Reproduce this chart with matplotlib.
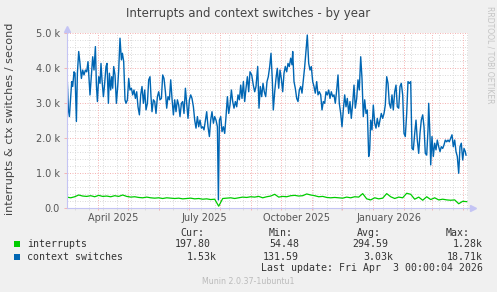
import datetime as dt
import matplotlib
matplotlib.use("Agg")
import matplotlib.pyplot as plt
import matplotlib.dates as mdates

# ---------------- data ----------------
start_date = dt.datetime(2025, 3, 1)

ctx_day = [0.0, 1.7, 2.7, 4.0, 5.0, 6.0, 7.3, 8.3, 9.7, 10.7, 12.0, 13.3, 14.7, 16.0, 17.3, 18.7,
           20.0, 21.3, 22.7, 23.3, 24.7, 26.0, 27.3, 28.7, 29.7, 30.7, 32.0, 33.3, 34.3, 35.3, 36.7,
           37.7, 39.3, 40.3, 41.7, 42.7, 44.0, 45.0, 46.0, 47.0, 48.3, 49.7, 51.0, 52.0, 53.3, 54.7,
           55.7, 57.0, 58.3, 59.3, 60.7, 62.0, 63.3, 64.7, 66.0, 67.3, 68.7, 70.0, 71.3, 72.7, 74.0,
           75.3, 76.7, 78.0, 79.3, 80.7, 82.0, 83.3, 84.3, 85.3, 86.7, 88.0, 89.3, 90.7, 92.0, 93.3,
           94.7, 96.0, 97.3, 98.7, 100.0, 101.3, 102.7, 104.0, 105.3, 106.7, 108.0, 109.3, 110.7,
           112.0, 113.3, 114.7, 116.0, 117.3, 118.7, 120.0, 121.3, 122.7, 124.0, 125.3, 126.7, 128.0,
           129.3, 130.7, 132.0, 133.3, 134.7, 136.0, 137.3, 138.7, 140.0, 141.3, 142.7, 144.0, 145.3,
           146.7, 148.0, 149.3, 150.7, 151.7, 152.7, 154.0, 155.3, 156.7, 158.0, 159.3, 160.7, 162.0,
           163.3, 164.7, 166.0, 167.3, 168.7, 170.0, 171.3, 172.7, 174.0, 175.3, 176.7, 178.0, 179.3,
           180.7, 182.0, 183.3, 185.0, 186.6, 188.0, 189.3, 191.0, 192.3, 193.6, 195.0, 196.3, 197.6,
           199.0, 200.3, 201.6, 203.0, 204.3, 205.6, 206.6, 208.0, 209.3, 210.6, 212.0, 213.3, 214.6,
           216.0, 217.3, 218.6, 220.0, 221.3, 222.6, 224.0, 225.3, 226.0, 227.3, 228.6, 230.0, 231.3,
           232.6, 234.0, 235.3, 236.6, 238.0, 239.3, 240.6, 242.0, 243.3, 244.6, 246.0, 247.3, 248.6,
           250.0, 251.3, 252.6, 254.0, 255.3, 256.6, 258.0, 259.3, 260.6, 262.0, 263.3, 264.6, 266.0,
           267.3, 268.6, 270.0, 271.3, 272.6, 274.0, 275.3, 276.6, 278.0, 279.3, 280.6, 282.0, 283.3,
           284.6, 286.0, 287.3, 288.6, 290.0, 291.3, 292.6, 294.0, 295.3, 296.6, 298.0, 299.3, 300.6,
           302.0, 303.0, 304.0, 305.3, 306.6, 308.0, 309.3, 310.6, 312.0, 313.3, 314.6, 316.0, 317.3,
           318.6, 320.0, 321.3, 322.6, 324.0, 325.3, 326.6, 328.0, 329.3, 330.6, 332.0, 333.3, 334.6,
           336.0, 337.3, 338.6, 340.0, 341.3, 342.6, 344.0, 345.3, 346.6, 348.0, 349.3, 350.6, 352.0,
           353.3, 354.6, 356.0, 357.3, 358.6, 360.0, 361.3, 362.0, 363.3, 364.0, 365.3, 366.6, 368.0,
           369.3, 370.6, 372.0, 373.3, 374.6, 376.0, 377.3, 378.6, 380.0, 381.3, 382.6, 384.0, 385.3,
           386.6, 388.0, 389.3, 390.6, 392.0, 393.3, 394.6, 396.0, 397.3, 398.6, 399.3]

ctx_val = [4100, 2810, 2620, 3190, 3620, 3480, 3900, 3860, 2480, 3860, 4480, 4140, 3710, 3950, 3810, 3950,
           3900, 4190, 3520, 3240, 3810, 4330, 3950, 4620, 3520, 3050, 3760, 3570, 4140, 3670, 3190,
           3480, 4050, 4140, 3000, 3860, 3380, 3760, 3430, 4050, 3810, 3000, 3480, 3950, 4860, 4240,
           4430, 4190, 3100, 3000, 3100, 3710, 3380, 3430, 3240, 3380, 3140, 3330, 2900, 2670, 3240,
           3480, 3000, 3380, 2810, 3000, 3670, 3760, 3190, 2760, 3100, 3050, 2710, 3190, 3330, 3100,
           3140, 3810, 3710, 3330, 2860, 3190, 3100, 3670, 3140, 2670, 3100, 2760, 3100,
           2950, 2620, 3000, 3050, 2710, 3430, 3000, 2570, 3100, 3240, 3140, 2900, 2520,
           2290, 2620, 2330, 2520, 2290, 2330, 2240, 2520, 2760, 2330, 2050, 2520, 2760,
           2430, 2620, 2520, 2330, 240, 2520, 2620, 2190, 2330, 2140, 2620, 3190, 2710,
           2950, 3380, 3050, 2860, 3050, 2900, 3240, 3100, 3520, 3140, 3620, 3050, 3430,
           3760, 3330, 3900, 3810, 3520, 3330, 3480, 4050, 2860, 3480, 3190, 3570, 3330,
           3190, 3620, 3760, 4050, 4430, 3670, 2810, 3330, 3710, 4000, 3430, 3950, 3710,
           3330, 3860, 4050, 3900, 4140, 4050, 4290, 4100, 4480, 3620, 3430, 3140, 3050,
           3380, 3480, 3290, 3670, 4050, 4520, 4950, 4140, 3950, 4050, 3620, 3480, 3290,
           3620, 3240, 3330, 3240, 2810, 3050, 3000, 3330, 3240, 3380, 3140, 3330, 3190,
           3240, 3000, 3380, 3810, 3000, 2710, 2330, 2810, 3240, 2900, 3140, 2710, 3050,
           2570, 3000, 3520, 2860, 3140, 3670, 3380, 4330, 3710, 2620, 3100, 2710, 2810,
           1480, 1670, 2520, 2240, 2950, 2430, 2290, 2570, 2330, 2520, 2710, 2570, 2710,
           2950, 3760, 3570, 3000, 2860, 3240, 2810, 3330, 3520, 2900, 2860, 3480, 3570,
           3240, 2140, 2050, 2710, 3620, 3570, 3620, 1710, 1670, 2140, 2520, 1950, 1570,
           2140, 2520, 2670, 2330, 1570, 1520, 2240, 3000, 2050, 1240, 2050, 1480, 1860,
           1670, 1950, 1760, 1620, 1760, 1710, 1810, 1950, 1900, 1950, 1900, 2000, 2100,
           1760, 1950, 1620, 1480, 1000, 1760, 1860, 1380, 1710, 1620, 1520]

int_day = [0, 4, 8, 12, 16, 20, 24, 28, 32, 36, 40, 44, 48, 52, 56, 60, 64, 68, 72, 76, 80, 84, 88,
           92, 96, 100, 104, 108, 112, 116, 120, 124, 128, 132, 136, 140, 144, 148, 152, 156, 160,
           164, 168, 172, 176, 180, 184, 188, 192, 196, 200, 204, 208, 212, 216, 220, 224, 228, 232,
           236, 240, 244, 248, 252, 256, 260, 264, 268, 272, 276, 280, 284, 288, 292, 296, 300, 304,
           308, 312, 316, 320, 324, 328, 332, 336, 340, 344, 348, 352, 356, 360, 364, 368, 372, 376,
           380, 384, 388, 392, 396, 400]

int_val = [320, 300, 330, 380, 350, 340, 360, 330, 370, 340, 350, 330, 360, 340, 380, 340, 320, 330,
           310, 300, 320, 300, 290, 300, 280, 300, 290, 280, 290, 270, 280, 290, 270, 280, 260, 270,
           250, 260, 60, 280, 290, 300, 280, 300, 320, 310, 330, 320, 340, 300, 330, 350, 400, 320,
           340, 330, 360, 370, 350, 360, 410, 380, 360, 330, 340, 310, 300, 310, 300, 290, 320, 300,
           330, 320, 420, 270, 240, 300, 270, 290, 420, 330, 280, 320, 300, 430, 400, 260, 320, 230,
           330, 250, 300, 240, 260, 240, 230, 240, 130, 200, 190]

y_ticks = [0, 1000, 2000, 3000, 4000, 5000]
y_tick_labels = ["0.0", "1.0 k", "2.0 k", "3.0 k", "4.0 k", "5.0 k"]
x_label_dates = [dt.datetime(2025, 4, 16, 12), dt.datetime(2025, 7, 17), dt.datetime(2025, 10, 17),
                 dt.datetime(2026, 1, 17)]
x_labels = ["April 2025", "July 2025", "October 2025", "January 2026"]

series_names = ["interrupts", "context switches"]
series_colors = ["#00cc00", "#0066b3"]
cur_vals = ["197.80", "1.53k"]
min_vals = ["54.48", "131.59"]
avg_vals = ["294.59", "3.03k"]
max_vals = ["1.28k", "18.71k"]

# ---------------- figure ----------------
W, H = 497, 292
fig = plt.figure(figsize=(W / 100, H / 100), dpi=100, facecolor="#f0f0f0")


def fx(px):
    return px / W


def fy(py):
    return 1 - py / H


L, R, T, B = 66.7, 467.7, 33.3, 208.3
ax = fig.add_axes([fx(L), fy(B), (R - L) / W, (B - T) / H])
ax.set_facecolor("white")
for s in ax.spines.values():
    s.set_visible(False)

x0 = mdates.date2num(start_date)
ax.set_xlim(x0, x0 + 401)
ax.set_ylim(0, 5000)

minor_c = "#dcdcdc"
major_c = "#f5b5b5"
ls = (0, (1, 1.5))
lw = 0.72

# horizontal grid
for v in range(200, 5001, 200):
    if v % 1000:
        ax.axhline(v, color=minor_c, lw=lw, ls=ls, zorder=1)
for v in y_ticks[1:]:
    ax.axhline(v, color=major_c, lw=lw, ls=ls, zorder=1.5)

# vertical grid: minor every 2 weeks, major at month starts
d = dt.datetime(2025, 3, 9)
end = start_date + dt.timedelta(days=401)
minor_x = []
while d < end:
    minor_x.append(mdates.date2num(d))
    d += dt.timedelta(days=14)
major_x = []
y, m = 2025, 4
while dt.datetime(y, m, 1) < end:
    major_x.append(mdates.date2num(dt.datetime(y, m, 1)))
    m += 1
    if m > 12:
        m, y = 1, y + 1
for xv in minor_x:
    ax.axvline(xv, color=minor_c, lw=lw, ls=ls, zorder=1)
for xv in major_x:
    ax.axvline(xv, color=major_c, lw=lw, ls=ls, zorder=1.5)

# small ticks below x axis / left of y axis
btr = ax.get_xaxis_transform()
ax.vlines(minor_x, -0.012, 0, transform=btr, color=minor_c, lw=lw, clip_on=False)
ax.vlines(major_x, -0.012, 0, transform=btr, color=major_c, lw=lw, clip_on=False)
ltr = ax.get_yaxis_transform()
ax.hlines(y_ticks, -0.006, 0, transform=ltr, color=major_c, lw=lw, clip_on=False)

# data
ax.plot([x0 + v for v in int_day], int_val, color=series_colors[0], lw=0.9, zorder=3)
ax.plot([x0 + v for v in ctx_day], ctx_val, color=series_colors[1], lw=1.0, zorder=3)

# axes lines with arrows
axc = "#c4c4f4"
ax.plot([0, 0], [0, 1.02], transform=ax.transAxes, color=axc, lw=0.8, clip_on=False, zorder=4)
ax.plot([0, 1.01], [0, 0], transform=ax.transAxes, color=axc, lw=0.8, clip_on=False, zorder=4)
ax.plot([0], [1.025], transform=ax.transAxes, marker="^", ms=4, color=axc, clip_on=False, zorder=4)
ax.plot([1.012], [0], transform=ax.transAxes, marker=">", ms=4, color=axc, clip_on=False, zorder=4)

# ticks and labels
txt_c = "#555555"
ax.set_yticks(y_ticks)
ax.set_yticklabels(y_tick_labels, fontsize=7, color=txt_c)
ax.set_xticks([mdates.date2num(v) for v in x_label_dates])
ax.set_xticklabels(x_labels, fontsize=7, color=txt_c)
ax.tick_params(axis="both", length=0)
ax.tick_params(axis="y", pad=4.8)
ax.tick_params(axis="x", pad=3.2)

# titles
fig.text(fx(248), fy(13), "Interrupts and context switches - by year", ha="center", va="center",
         fontsize=8.5, color="#444444")
fig.text(fx(10), fy(119), "interrupts & ctx switches / second", ha="center", va="center",
         rotation=90, fontsize=8.1, color="#444444")
fig.text(fx(490), fy(55), "RRDTOOL / TOBI OETIKER", ha="center", va="center", rotation=270,
         fontsize=5.5, color="#c4c4c4")

# legend
mono = "DejaVu Sans Mono"
lfs = 7.1
lc = "#333333"
for hx, h in zip([204, 293, 381, 470], ["Cur:", "Min:", "Avg:", "Max:"]):
    fig.text(fx(hx), fy(233), h, ha="right", va="center", family=mono, fontsize=lfs, color=lc)

row_y = [244, 257]
col_right = [[211, 299, 388, 483], [217, 299, 393, 483]]
for i in range(2):
    ry = row_y[i]
    fig.patches.append(plt.Rectangle((fx(14), fy(ry + 3)), 6 / W, 6 / H, transform=fig.transFigure,
                                     facecolor=series_colors[i], edgecolor="none"))
    fig.text(fx(27), fy(ry), series_names[i], ha="left", va="center", family=mono, fontsize=lfs,
             color=lc)
    for cx, val in zip(col_right[i], [cur_vals[i], min_vals[i], avg_vals[i], max_vals[i]]):
        fig.text(fx(cx), fy(ry), val, ha="right", va="center", family=mono, fontsize=lfs, color=lc)

fig.text(fx(483), fy(268), "Last update: Fri Apr  3 00:00:04 2026", ha="right", va="center",
         family=mono, fontsize=lfs, color=lc)
fig.text(fx(248), fy(281), "Munin 2.0.37-1ubuntu1", ha="center", va="center", fontsize=5.65,
         color="#bbbbbb")

fig.savefig("out.png", dpi=100, facecolor=fig.get_facecolor())
